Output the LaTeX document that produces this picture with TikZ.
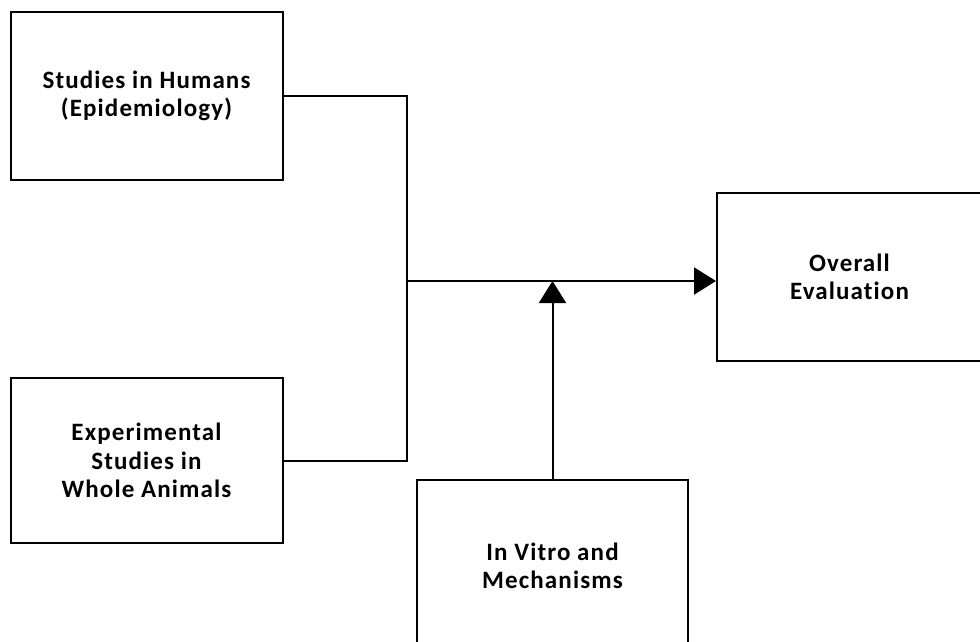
\documentclass[tikz,border=0pt]{standalone}
\usepackage{fontspec}
\setmainfont{Carlito}[LetterSpace=4.5,Ligatures=NoCommon]
\usetikzlibrary{arrows.meta}
\begin{document}
\begin{tikzpicture}[x=1pt,y=-1pt,
    box/.style={draw,line width=2pt,align=center,font=\bfseries\fontsize{25}{28.5}\selectfont,inner sep=0pt},
    link/.style={line width=2pt},
    arr/.style={link,-{Triangle[length=22pt,width=27pt]}}]
      \useasboundingbox (0,0) rectangle (980,641);
      \draw
        (146.5,96) node[box,minimum width=272pt,minimum height=168pt] (hum){Studies in Humans\\(Epidemiology)}
        (146.5,460.5) node[box,minimum width=272pt,minimum height=165pt] (ani){Experimental\\Studies in\\Whole Animals}
        (552.5,566) node[box,minimum width=271pt,minimum height=172pt] (vit){In Vitro and\\Mechanisms}
        (849.5,277) node[box,minimum width=265pt,minimum height=168pt] (eval){Overall\\Evaluation};
      \coordinate (mid) at (407,281);
      \begin{scope}[link]
        \draw (hum.east) -| (mid) |- (ani.east);
        \draw[arr] (mid) -- (eval.west |- mid);
        \draw[arr] (vit.north) -- (vit.north |- mid);
      \end{scope}
    \end{tikzpicture}
\end{document}
